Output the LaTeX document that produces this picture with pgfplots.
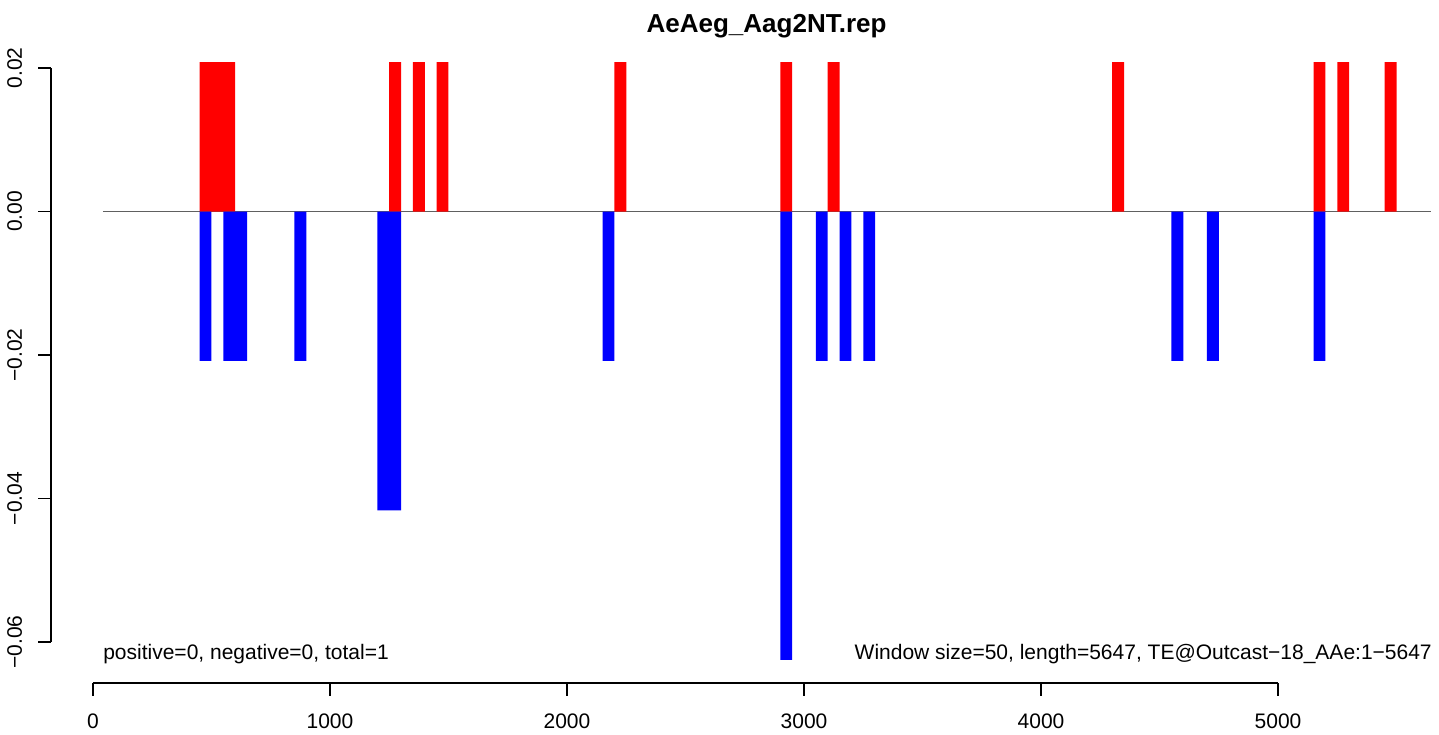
\documentclass[border=0pt]{standalone}
\usepackage{fontspec}
\setmainfont{Liberation Sans}
\usepackage{pgfplots}
\pgfplotsset{compat=1.18}
\usepackage{pgfplotstable}

\pgfplotstableread{
x y
475 0.020833
525 0.020833
575 0.020833
1275 0.020833
1375 0.020833
1475 0.020833
2225 0.020833
2925 0.020833
3125 0.020833
4325 0.020833
5175 0.020833
5275 0.020833
5475 0.020833
}\pos

\pgfplotstableread{
x y
475 -0.020833
575 -0.020833
625 -0.020833
875 -0.020833
1225 -0.041667
1275 -0.041667
2175 -0.020833
2925 -0.0625
3075 -0.020833
3175 -0.020833
3275 -0.020833
4575 -0.020833
4725 -0.020833
5175 -0.020833
}\negs

\begin{document}
\begin{tikzpicture}
\useasboundingbox (-25.5pt,-25.5pt) rectangle (694pt,341.5pt);
\begin{axis}[
  at={(0,0)}, anchor=south west,
  scale only axis, width=694pt, height=323pt,
  xmin=-177, xmax=5679, ymin=-0.06571, ymax=0.02432,
  axis x line*=bottom, axis y line*=left,
  axis line style={draw=none},
  clip=false,
  scaled y ticks=false, scaled x ticks=false,
  xtick={0,1000,2000,3000,4000,5000},
  xticklabels={0,1000,2000,3000,4000,5000},
  ytick={-0.06,-0.04,-0.02,0,0.02},
  yticklabels={−0.06,−0.04,−0.02,0.00,0.02},
  tick align=outside,
  major tick length=6.3pt,
  tick style={black, line width=0.9pt},
  tick label style={font=\fontsize{10.5}{12}\selectfont, inner sep=0pt},
  xticklabel style={anchor=north},
  yticklabel style={rotate=90, anchor=south},
  xticklabel shift=9pt,
  yticklabel shift=8pt,
]
\addplot[gray!75!black, line width=0.7pt] coordinates {(42,0) (5647,0)};
\addplot[ybar, bar width=50, bar shift=0pt, fill=red, draw=none] table[x=x,y=y] {\pos};
\addplot[ybar, bar width=50, bar shift=0pt, fill=blue, draw=none] table[x=x,y=y] {\negs};
\draw[black, line width=0.9pt] (axis cs:0,-0.06571) -- (axis cs:5000,-0.06571);
\draw[black, line width=0.9pt] (axis cs:-177,-0.06) -- (axis cs:-177,0.02);
\node[font=\bfseries\fontsize{13}{15}\selectfont, anchor=base] at (axis cs:2842,0.02488) {AeAeg\_Aag2NT.rep};
\node[font=\fontsize{10.5}{12}\selectfont, anchor=base west, inner sep=0pt] at (axis cs:42,-0.06237) {positive=0, negative=0, total=1};
\node[font=\fontsize{10.5}{12}\selectfont, anchor=base east, inner sep=0pt] at (axis cs:5650,-0.06237) {Window size=50, length=5647, TE@Outcast−18\_AAe:1−5647};
\end{axis}
\end{tikzpicture}
\end{document}
